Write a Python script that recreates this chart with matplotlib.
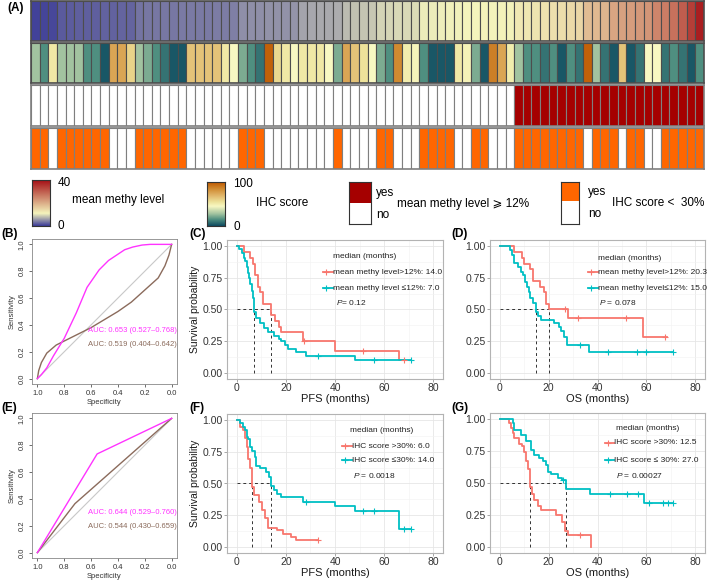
import matplotlib
matplotlib.use("Agg")
import matplotlib.pyplot as plt
from matplotlib.colors import LinearSegmentedColormap, ListedColormap, Normalize
import numpy as np

plt.rcParams['font.family'] = ['Liberation Sans', 'DejaVu Sans']
plt.rcParams['mathtext.fontset'] = 'custom'
plt.rcParams['mathtext.it'] = 'Liberation Sans:italic'
plt.rcParams['mathtext.rm'] = 'Liberation Sans'

# ---------------- data ----------------
methy_level = [0.5, 0.7, 0.9,
               2.0, 2.1, 2.2, 2.2, 2.3, 2.4, 2.4, 2.5, 2.6,
               3.5, 3.6, 3.6, 3.7, 3.7, 3.8, 3.8, 3.9, 3.9, 4.0, 4.0, 4.1,
               5.0, 5.1, 5.1, 5.2, 5.3, 5.3, 5.4,
               6.4, 6.5, 6.6, 6.7, 6.8,
               7.8, 8.0, 8.2, 8.4,
               9.2, 9.3, 9.4, 9.5, 9.6,
               10.5, 10.6, 10.7, 10.8, 10.9, 11.0, 11.0, 11.1, 11.2, 11.3, 11.4,
               12.5, 12.8, 13.1, 13.4, 13.7, 14.0, 14.4, 14.8,
               18.0, 18.5, 19.0,
               21.0, 21.5, 22.0, 22.5, 23.0,
               25.0, 26.0, 27.5, 30.0, 34.0, 38.0]
ihc_score = [28, 15, 52, 28, 28, 28, 15, 15, 3, 75, 75, 60, 28, 22, 15, 9, 3, 3,
             65, 65, 65, 65, 52, 45, 22, 15, 9, 97, 58, 52, 45, 52, 52, 52, 45, 22,
             75, 65, 55, 45, 22, 15, 85, 50, 47, 15, 3, 3, 3, 52, 48, 22, 3, 88, 75,
             50, 28, 15, 15, 9, 15, 3, 15, 9, 97, 28, 9, 3, 65, 3, 9, 45, 45, 9, 15,
             9, 3, 15]
methy_high = [1 if v >= 12 else 0 for v in methy_level]
ihc_low = [1 if v < 30 else 0 for v in ihc_score]

# ROC curves (specificity, sensitivity)
rocB_mag_spec = [1.0, 0.97, 0.93, 0.88, 0.80, 0.71, 0.63, 0.54, 0.47, 0.41, 0.35, 0.29, 0.22, 0.16, 0.08, 0.0]
rocB_mag_sens = [0.0, 0.03, 0.08, 0.17, 0.30, 0.49, 0.68, 0.81, 0.88, 0.92, 0.96, 0.98, 0.995, 1.0, 1.0, 1.0]
rocB_brn_spec = [1.0, 0.99, 0.97, 0.93, 0.86, 0.80, 0.70, 0.60, 0.50, 0.40, 0.30, 0.20, 0.10, 0.05, 0.02, 0.0]
rocB_brn_sens = [0.0, 0.06, 0.12, 0.19, 0.25, 0.28, 0.33, 0.38, 0.44, 0.50, 0.57, 0.66, 0.75, 0.84, 0.92, 1.0]
rocE_mag_spec = [1.0, 0.555, 0.0]
rocE_mag_sens = [0.0, 0.735, 1.0]
rocE_brn_spec = [1.0, 0.72, 0.0]
rocE_brn_sens = [0.0, 0.365, 1.0]
auc_B = ["AUC: 0.653 (0.527\u20130.768)", "AUC: 0.519 (0.404\u20130.642)"]
auc_E = ["AUC: 0.644 (0.529\u20130.760)", "AUC: 0.544 (0.430\u20130.659)"]

# Kaplan-Meier step data (time in months, survival)
C_red_t = [0, 3, 5.5, 6.5, 7.5, 8.5, 9.5, 10.5, 14, 15.5, 17, 18, 27, 40, 66]
C_red_s = [1.0, 0.955, 0.909, 0.864, 0.773, 0.682, 0.636, 0.545, 0.455, 0.409, 0.364, 0.318, 0.25, 0.17, 0.10]
C_red_end, C_red_cens = 68, [27.5, 51.5, 68]
C_cyn_t = [0, 1, 2, 3, 3.5, 4, 4.5, 5, 5.5, 6, 6.5, 7, 8, 9.5, 11, 12.5, 15, 17, 18, 19.5, 21, 24, 28, 48]
C_cyn_s = [1, 0.98, 0.95, 0.91, 0.88, 0.84, 0.79, 0.75, 0.70, 0.65, 0.59, 0.48, 0.43, 0.39, 0.35, 0.32, 0.29, 0.27, 0.25, 0.22, 0.19, 0.16, 0.135, 0.10]
C_cyn_end, C_cyn_cens = 71, [33, 56, 71]

D_red_t = [0, 6, 9, 10, 12.5, 13.5, 16.5, 18, 19, 20.3, 28, 58.5]
D_red_s = [1, 0.955, 0.909, 0.864, 0.818, 0.727, 0.682, 0.636, 0.545, 0.5, 0.43, 0.286]
D_red_end, D_red_cens = 68.5, [26.5, 32, 51.5, 67.5]
D_cyn_t = [0, 4, 5, 6, 7.3, 8.5, 9.5, 10.5, 11, 11.8, 12.5, 13.5, 15, 15.5, 16.8, 22, 24.2, 25, 26.2, 27.5, 36.7]
D_cyn_s = [1, 0.97, 0.93, 0.87, 0.84, 0.80, 0.77, 0.72, 0.68, 0.64, 0.59, 0.55, 0.48, 0.45, 0.42, 0.39, 0.36, 0.33, 0.28, 0.22, 0.16]
D_cyn_end, D_cyn_cens = 71, [33, 44.5, 56, 60, 71]

F_red_t = [0, 1.3, 2.5, 3.3, 4, 4.6, 5.2, 6, 7, 9, 10.3, 11.4, 12.5, 16.5, 19, 22, 24]
F_red_s = [1, 0.95, 0.92, 0.86, 0.79, 0.69, 0.62, 0.47, 0.41, 0.35, 0.29, 0.23, 0.15, 0.13, 0.10, 0.08, 0.05]
F_red_end, F_red_cens = 33, [33]
F_cyn_t = [0, 1.3, 2.7, 3.3, 4, 4.6, 5.3, 6.3, 7.3, 8, 9.4, 12, 13, 14, 15, 16.5, 18, 27, 40, 48, 66]
F_cyn_s = [1, 0.975, 0.95, 0.92, 0.87, 0.85, 0.79, 0.76, 0.71, 0.64, 0.62, 0.59, 0.55, 0.48, 0.45, 0.42, 0.39, 0.355, 0.32, 0.28, 0.14]
F_cyn_end, F_cyn_cens = 71, [28, 51.5, 56, 68, 71]

G_red_t = [0, 3.6, 4.4, 5.4, 6, 8, 9.3, 10, 10.7, 11.4, 12.5, 13, 14, 15.5, 17, 23, 25.5, 26.8, 27.8, 37.2]
G_red_s = [1, 0.97, 0.93, 0.89, 0.85, 0.81, 0.79, 0.74, 0.67, 0.61, 0.47, 0.41, 0.37, 0.32, 0.29, 0.25, 0.19, 0.12, 0.09, 0.0]
G_red_end, G_red_cens = 37.2, [33]
G_cyn_t = [0, 5.4, 6, 8.7, 10.7, 12.8, 14.2, 16.2, 17.5, 18.8, 19.7, 20.8, 24, 25.5, 27, 37, 59]
G_cyn_s = [1, 0.97, 0.92, 0.88, 0.83, 0.76, 0.72, 0.70, 0.67, 0.64, 0.59, 0.57, 0.54, 0.52, 0.45, 0.41, 0.34]
G_cyn_end, G_cyn_cens = 71, [26, 45, 52, 56.5, 61, 67, 69, 71]

legend_C = ["mean methy level>12%: 14.0", "mean methy level \u226412%: 7.0", r"$\mathit{P}$= 0.12"]
legend_D = ["mean methy level>12%: 20.3", "mean methy level\u226412%: 15.0", r"$\mathit{P}$ = 0.078"]
legend_F = ["IHC score >30%: 6.0", "IHC score \u226430%: 14.0", r"$\mathit{P}$ = 0.0018"]
legend_G = ["IHC score >30%: 12.5", "IHC score \u2264 30%: 27.0", r"$\mathit{P}$ = 0.00027"]

# ---------------- figure ----------------
W, H = 709, 581
fig = plt.figure(figsize=(W / 100, H / 100), dpi=100)


def px_ax(x0, y0, x1, y1):
    return fig.add_axes([x0 / W, 1 - y1 / H, (x1 - x0) / W, (y1 - y0) / H])


def ftext(x, y, s, **kw):
    kw.setdefault('va', 'center')
    fig.text(x / W, 1 - y / H, s, **kw)


methy_cmap = LinearSegmentedColormap.from_list(
    'methy', [(0, '#3a3a97'), (11 / 40, '#f4f4bc'), (1, '#a50f15')])
ihc_cmap = LinearSegmentedColormap.from_list(
    'ihc', [(0, '#0d4a60'), (0.15, '#4f8f80'), (0.28, '#a3c4a0'), (0.45, '#f8f8c2'),
            (0.55, '#ede29a'), (0.7, '#e0b468'), (0.85, '#d08a30'), (1.0, '#bf5800')])
yes_red = ListedColormap(['#ffffff', '#a50000'])
yes_org = ListedColormap(['#ffffff', '#ff6600'])

n = len(methy_level)
rows = [((1, 41), np.array(methy_level), methy_cmap, 0, 40, '#4d4d4d'),
        ((43, 83), np.array(ihc_score), ihc_cmap, 0, 100, '#4d4d4d'),
        ((85, 126), np.array(methy_high), yes_red, 0, 1, '#7f7f7f'),
        ((128, 169), np.array(ihc_low), yes_org, 0, 1, '#7f7f7f')]
for (y0, y1), vals, cmap, vmin, vmax, ec in rows:
    ax = px_ax(31, y0, 704, y1)
    cols = cmap(Normalize(vmin, vmax)(vals.astype(float)))
    ax.bar(np.arange(n) + 0.5, 1.0, width=1.0, bottom=0, color=cols,
           edgecolor=ec, linewidth=0.8)
    ax.set_xlim(0, n)
    ax.set_ylim(0, 1)
    ax.set_xticks([])
    ax.set_yticks([])
    for sp in ax.spines.values():
        sp.set_color(ec)
        sp.set_linewidth(1.2)

# legends of heatmap
grad = np.linspace(0, 1, 256)[:, None]
cb1 = px_ax(32, 180, 50, 226)
cb1.imshow(grad * 40, aspect='auto', origin='lower', cmap=methy_cmap, vmin=0, vmax=40)
cb2 = px_ax(207, 182, 225, 226)
cb2.imshow(grad * 100, aspect='auto', origin='lower', cmap=ihc_cmap, vmin=0, vmax=100)
for cb in (cb1, cb2):
    cb.set_xticks([])
    cb.set_yticks([])
    for sp in cb.spines.values():
        sp.set_color('#333333')
        sp.set_linewidth(0.8)
ftext(58, 183, "40", fontsize=8.5)
ftext(58, 226, "0", fontsize=8.5)
ftext(72, 200, "mean methy level", fontsize=8.5)
ftext(233, 184, "100", fontsize=8.5)
ftext(233, 227, "0", fontsize=8.5)
ftext(256, 203, "IHC score", fontsize=8.5)

lb3 = px_ax(349, 182, 371, 224)
lb3.bar([0.5, 0.5], [0.5, 0.5], bottom=[0, 0.5], width=1.0, color=['#ffffff', '#a50000'], linewidth=0)
lb4 = px_ax(561, 182, 579, 224)
lb4.bar([0.5, 0.5], [0.55, 0.45], bottom=[0, 0.55], width=1.0, color=['#ffffff', '#ff6600'], linewidth=0)
for lb in (lb3, lb4):
    lb.set_xlim(0, 1)
    lb.set_ylim(0, 1)
    lb.set_xticks([])
    lb.set_yticks([])
    for sp in lb.spines.values():
        sp.set_color('#333333')
        sp.set_linewidth(0.8)
ftext(376, 193, "yes", fontsize=8.5)
ftext(376, 215, "no", fontsize=8.5)
ftext(397, 204, "mean methy level \u2a7e 12%", fontsize=8.5)
ftext(588, 192, "yes", fontsize=8.5)
ftext(588, 214, "no", fontsize=8.5)
ftext(612, 203, "IHC score <  30%", fontsize=8.5)

# panel labels
for lab, x, y in [("(A)", 7, 8), ("(B)", 1, 234), ("(C)", 189, 234), ("(D)", 451, 234),
                  ("(E)", 1, 408), ("(F)", 189, 408), ("(G)", 451, 408)]:
    ftext(x, y, lab, fontsize=8.5, fontweight='bold')


# ROC panels
def roc_panel(y0, y1, mag, brn, aucs, auc_y):
    ax = px_ax(32, y0, 177, y1)
    ax.plot([1, 0], [0, 1], color='#c8c8c8', lw=0.8)
    ax.plot(brn[0], brn[1], color='#8b6b5c', lw=1.0)
    ax.plot(mag[0], mag[1], color='#ff33ff', lw=1.0)
    ax.set_xlim(1.04, -0.04)
    ax.set_ylim(-0.04, 1.04)
    tk = [1.0, 0.8, 0.6, 0.4, 0.2, 0.0]
    ax.set_xticks(tk)
    ax.set_xticklabels([f"{v:.1f}" for v in tk])
    ax.set_yticks(tk)
    ax.set_yticklabels([f"{v:.1f}" for v in tk], rotation=90, va='center')
    ax.tick_params(labelsize=5.5, length=2.5, width=0.5, pad=2, colors='#333333')
    ax.set_xlabel("Specificity", fontsize=5.5, labelpad=1, color='#333333')
    ax.set_ylabel("Sensitivity", fontsize=5.5, labelpad=2, color='#333333')
    for sp in ax.spines.values():
        sp.set_color('#888888')
        sp.set_linewidth(0.6)
    ftext(177, auc_y, aucs[0], fontsize=5.5, color='#ff33ff', ha='right')
    ftext(177, auc_y + 14, aucs[1], fontsize=5.5, color='#8b6b5c', ha='right')


roc_panel(239, 384, (rocB_mag_spec, rocB_mag_sens), (rocB_brn_spec, rocB_brn_sens), auc_B, 331)
roc_panel(413, 558, (rocE_mag_spec, rocE_mag_sens), (rocE_brn_spec, rocE_brn_sens), auc_E, 512)

RED, CYN = '#F8766D', '#00BFC4'


def median_of(t, s):
    for ti, si in zip(t, s):
        if si <= 0.5:
            return ti
    return None


def km_panel(box, curves, legend, leg_xy, xlabel, ylabel):
    ax = px_ax(*box)
    ax.set_xlim(-4, 84)
    ax.set_ylim(-0.05, 1.05)
    ax.set_xticks([0, 20, 40, 60, 80])
    ax.set_yticks([0, 0.25, 0.5, 0.75, 1.0])
    ax.set_yticklabels(["0.00", "0.25", "0.50", "0.75", "1.00"])
    ax.set_xticks([10, 30, 50, 70], minor=True)
    ax.set_yticks([0.125, 0.375, 0.625, 0.875], minor=True)
    ax.grid(True, which='major', color='#e6e6e6', lw=0.6)
    ax.grid(True, which='minor', color='#f2f2f2', lw=0.4)
    ax.set_axisbelow(True)
    ax.tick_params(which='major', labelsize=7.5, length=2, width=0.6, color='#999999',
                   labelcolor='#333333', pad=1)
    ax.tick_params(which='minor', length=0)
    for sp in ax.spines.values():
        sp.set_color('#b3b3b3')
        sp.set_linewidth(0.8)
    meds = []
    for t, s, end, cens, col in curves:
        tt = list(t) + [end]
        ss = list(s) + [s[-1]]
        ax.step(tt, ss, where='post', color=col, lw=1.3, zorder=3)
        for c in cens:
            idx = max(i for i, ti in enumerate(t) if ti <= c)
            ax.plot(c, s[idx], marker='+', ms=4, mew=0.8, color=col, zorder=4)
        meds.append(median_of(t, s))
    ax.plot([0, max(meds)], [0.5, 0.5], color='#333333', lw=0.7, ls=(0, (3, 3)), zorder=2)
    for m in meds:
        ax.plot([m, m], [0, 0.5], color='#333333', lw=0.7, ls=(0, (3, 3)), zorder=2)
    ax.set_xlabel(xlabel, fontsize=8, labelpad=0.5, color='#1a1a1a')
    if ylabel:
        ax.set_ylabel(ylabel, fontsize=7.5, labelpad=1.5, color='#1a1a1a')
    # legend
    lx0, lx1, ty, y1, y2, py, hx, px_ = leg_xy
    ftext(hx, ty, "median (months)", fontsize=6.0, color='#222222')
    for (yy, col, txt) in [(y1, RED, legend[0]), (y2, CYN, legend[1])]:
        fig.lines.append(plt.Line2D([lx0 / W, lx1 / W], [1 - yy / H, 1 - yy / H],
                                    transform=fig.transFigure, color=col, lw=1.3))
        fig.lines.append(plt.Line2D([(lx0 + 2.5) / W], [1 - yy / H], transform=fig.transFigure,
                                    color=col, marker='+', ms=4, mew=0.8))
        ftext(lx1, yy, txt, fontsize=6.0, color='#222222')
    ftext(px_, py, legend[2], fontsize=6.0, color='#222222')
    return ax


km_panel((227, 240, 443, 379),
         [(C_red_t, C_red_s, C_red_end, C_red_cens, RED), (C_cyn_t, C_cyn_s, C_cyn_end, C_cyn_cens, CYN)],
         legend_C, (323, 333, 256, 272, 288, 303, 333, 336), "PFS (months)", "Survival probability")
km_panel((490, 240, 705, 379),
         [(D_red_t, D_red_s, D_red_end, D_red_cens, RED), (D_cyn_t, D_cyn_s, D_cyn_end, D_cyn_cens, CYN)],
         legend_D, (588, 598, 258, 272, 288, 303, 598, 599), "OS (months)", None)
km_panel((227, 414, 443, 553),
         [(F_red_t, F_red_s, F_red_end, F_red_cens, RED), (F_cyn_t, F_cyn_s, F_cyn_end, F_cyn_cens, CYN)],
         legend_F, (342, 352, 430, 446, 460, 475, 350, 353), "PFS (months)", "Survival probability")
km_panel((490, 413, 705, 553),
         [(G_red_t, G_red_s, G_red_end, G_red_cens, RED), (G_cyn_t, G_cyn_s, G_cyn_end, G_cyn_cens, CYN)],
         legend_G, (605, 614, 428, 443, 460, 476, 616, 616), "OS (months)", None)

fig.savefig("out.png", dpi=100)
